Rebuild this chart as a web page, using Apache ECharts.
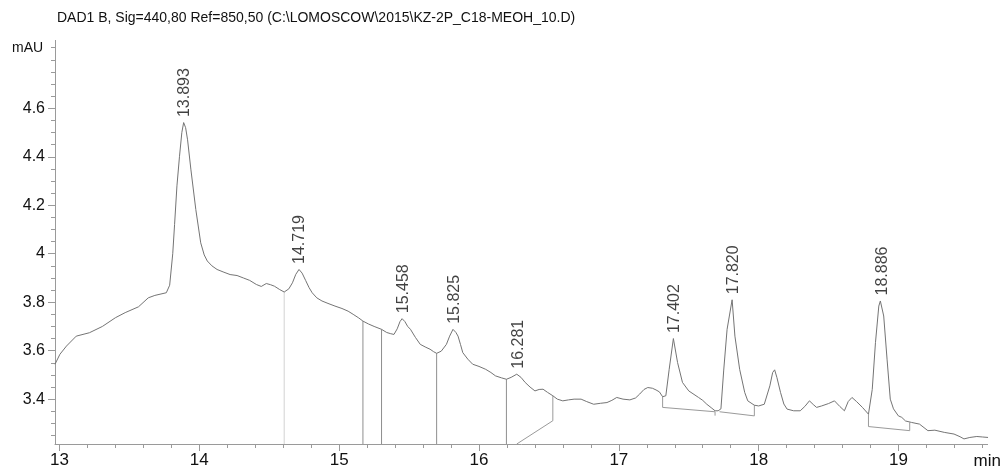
<!DOCTYPE html>
<html>
<head>
<meta charset="utf-8">
<script src="https://cdn.jsdelivr.net/npm/echarts@6/dist/echarts.min.js"></script>
<style>
  html, body { margin: 0; padding: 0; background: #fff; }
  #chart { width: 1004px; height: 470px; }
</style>
</head>
<body>
<div id="chart"></div>
<script>
// chromatogram trace (min, mAU)
var traceTime = [
  12.968, 13.003, 13.05, 13.12, 13.214, 13.307, 13.40, 13.47, 13.565, 13.635,
  13.682, 13.764, 13.788, 13.81, 13.823, 13.84, 13.858, 13.875, 13.888, 13.902,
  13.916, 13.94, 13.975, 14.01, 14.035, 14.057, 14.09, 14.127, 14.17, 14.22,
  14.27, 14.315, 14.36, 14.408, 14.443, 14.479, 14.51, 14.537, 14.575, 14.607,
  14.64, 14.666, 14.69, 14.713, 14.735, 14.76, 14.785, 14.807, 14.84, 14.877,
  14.92, 14.97, 15.02, 15.064, 15.10, 15.14, 15.17, 15.21, 15.25, 15.303,
  15.34, 15.369, 15.392, 15.415, 15.435, 15.45, 15.47, 15.49, 15.51, 15.545,
  15.58, 15.62, 15.65, 15.675, 15.697, 15.73, 15.767, 15.79, 15.814, 15.835,
  15.85, 15.868, 15.884, 15.92, 15.955, 16.00, 16.048, 16.085, 16.118, 16.16,
  16.196, 16.23, 16.27, 16.30, 16.33, 16.365, 16.40, 16.43, 16.458, 16.49,
  16.528, 16.56, 16.599, 16.64, 16.68, 16.73, 16.77, 16.82, 16.87, 16.915,
  16.95, 16.985, 17.03, 17.079, 17.12, 17.149, 17.18, 17.207, 17.24, 17.266,
  17.29, 17.313, 17.336, 17.36, 17.39, 17.42, 17.455, 17.50, 17.57, 17.60,
  17.629, 17.66, 17.688, 17.71, 17.73, 17.75, 17.774, 17.81, 17.83, 17.864,
  17.90, 17.922, 17.969, 18.00, 18.04, 18.08, 18.10, 18.114, 18.13, 18.156,
  18.18, 18.203, 18.25, 18.297, 18.33, 18.363, 18.39, 18.414, 18.45, 18.50,
  18.542, 18.58, 18.613, 18.64, 18.667, 18.70, 18.742, 18.785, 18.812, 18.835,
  18.859, 18.87, 18.894, 18.918, 18.941, 18.964, 18.999, 19.023, 19.05, 19.093,
  19.15, 19.21, 19.26, 19.327, 19.397, 19.44, 19.468, 19.51, 19.56, 19.60,
  19.64
];
var traceAbs = [
  3.544, 3.585, 3.619, 3.660, 3.674, 3.700, 3.736, 3.757, 3.781, 3.818,
  3.828, 3.839, 3.870, 4.000, 4.120, 4.280, 4.400, 4.500, 4.541, 4.520,
  4.470, 4.346, 4.182, 4.045, 3.995, 3.970, 3.950, 3.935, 3.925, 3.914,
  3.910, 3.900, 3.890, 3.873, 3.865, 3.877, 3.872, 3.866, 3.852, 3.842,
  3.855, 3.880, 3.915, 3.935, 3.920, 3.890, 3.860, 3.839, 3.818, 3.805,
  3.795, 3.784, 3.774, 3.763, 3.750, 3.735, 3.722, 3.710, 3.700, 3.688,
  3.675, 3.670, 3.667, 3.690, 3.720, 3.732, 3.720, 3.700, 3.688, 3.655,
  3.626, 3.614, 3.606, 3.596, 3.589, 3.598, 3.626, 3.660, 3.688, 3.675,
  3.660, 3.625, 3.592, 3.565, 3.544, 3.535, 3.523, 3.510, 3.496, 3.488,
  3.482, 3.490, 3.503, 3.490, 3.469, 3.450, 3.434, 3.440, 3.441, 3.428,
  3.414, 3.400, 3.393, 3.397, 3.400, 3.400, 3.390, 3.379, 3.383, 3.386,
  3.395, 3.407, 3.400, 3.397, 3.405, 3.421, 3.440, 3.448, 3.445, 3.438,
  3.430, 3.410, 3.414, 3.523, 3.650, 3.551, 3.469, 3.434, 3.407, 3.395,
  3.379, 3.365, 3.352, 3.352, 3.360, 3.520, 3.688, 3.810, 3.660, 3.523,
  3.428, 3.393, 3.375, 3.372, 3.379, 3.455, 3.510, 3.521, 3.490, 3.428,
  3.380, 3.359, 3.352, 3.352, 3.370, 3.393, 3.378, 3.366, 3.372, 3.382,
  3.393, 3.370, 3.352, 3.390, 3.407, 3.390, 3.366, 3.338, 3.440, 3.633,
  3.784, 3.805, 3.743, 3.565, 3.400, 3.360, 3.331, 3.325, 3.310, 3.304,
  3.297, 3.270, 3.272, 3.263, 3.256, 3.245, 3.236, 3.242, 3.246, 3.244,
  3.242
];

// peak retention times and apex heights
var peakTimes = ['13.893', '14.719', '15.458', '15.825', '16.281', '17.402', '17.820', '18.886'];
var peakApex = [4.541, 3.935, 3.732, 3.688, 3.503, 3.650, 3.810, 3.805];

// integration marks: drop lines and baselines
var dropTimes = [14.607, 15.17, 15.303, 15.697, 16.196];
var dropTops = [3.842, 3.722, 3.688, 3.589, 3.482];
var baseTimes = [
  [16.27, 16.528, 16.528],
  [17.313, 17.313, 17.688, 17.688],
  [17.72, 17.969, 17.969],
  [18.785, 18.785, 19.08, 19.08]
];
var baseAbs = [
  [3.215, 3.311, 3.414],
  [3.410, 3.366, 3.348, 3.332],
  [3.348, 3.331, 3.375],
  [3.338, 3.287, 3.270, 3.304]
];

// axis ticks
var xLabels = [13, 14, 15, 16, 17, 18, 19];
var xTicks = [13, 13.2, 13.4, 13.6, 13.8, 14, 14.2, 14.4, 14.6, 14.8, 15, 15.2, 15.4, 15.6, 15.8,
  16, 16.2, 16.4, 16.6, 16.8, 17, 17.2, 17.4, 17.6, 17.8, 18, 18.2, 18.4, 18.6, 18.8, 19, 19.2, 19.4, 19.6];
var yLabels = [3.4, 3.6, 3.8, 4, 4.2, 4.4, 4.6];
var yTicks = [3.25, 3.3, 3.35, 3.4, 3.45, 3.5, 3.55, 3.6, 3.65, 3.7, 3.75, 3.8, 3.85, 3.9, 3.95, 4,
  4.05, 4.1, 4.15, 4.2, 4.25, 4.3, 4.35, 4.4, 4.45, 4.5, 4.55, 4.6, 4.65, 4.7, 4.75, 4.8, 4.85];

var axisGray = '#9a9a9a';
var narrow = '"Liberation Sans Narrow", "Liberation Sans", Arial, sans-serif';
var sans = '"Liberation Sans", Arial, sans-serif';

var trace = traceTime.map(function (t, i) { return [t, traceAbs[i]]; });

var series = [{
  type: 'line',
  data: trace,
  showSymbol: false,
  lineStyle: { color: '#747474', width: 1 },
  z: 3
}];

dropTimes.forEach(function (t, i) {
  series.push({
    type: 'line',
    data: [[t, 3.215], [t, dropTops[i]]],
    showSymbol: false,
    lineStyle: { color: i === 0 ? '#d2d2d2' : '#8e8e8e', width: 1 },
    z: 2
  });
});

baseTimes.forEach(function (ts, i) {
  series.push({
    type: 'line',
    data: ts.map(function (t, j) { return [t, baseAbs[i][j]]; }),
    showSymbol: false,
    lineStyle: { color: '#9a9a9a', width: 1 },
    z: 2
  });
});

series.push({
  type: 'scatter',
  symbolSize: 1,
  itemStyle: { color: 'rgba(0,0,0,0)' },
  data: peakTimes.map(function (p, i) { return { name: p, value: [parseFloat(p), peakApex[i]] }; }),
  label: {
    show: true,
    formatter: '{b}',
    position: 'top',
    distance: 5,
    rotate: 90,
    align: 'left',
    verticalAlign: 'middle',
    fontFamily: narrow,
    fontSize: 16,
    color: '#111'
  },
  z: 4
});

var myChart = echarts.init(document.getElementById('chart'));
myChart.setOption({
  animation: false,
  backgroundColor: '#fff',
  title: {
    text: 'DAD1 B, Sig=440,80 Ref=850,50 (C:\\LOMOSCOW\\2015\\KZ-2P_C18-MEOH_10.D)',
    left: 57,
    top: 11,
    padding: 0,
    textStyle: { fontFamily: sans, fontSize: 14, fontWeight: 'normal', color: '#111' }
  },
  graphic: [{
    type: 'text',
    left: 12,
    top: 41,
    style: { text: 'mAU', fontFamily: sans, fontSize: 14, fill: '#111' }
  }],
  grid: { left: 55, right: 0, top: 40.4, bottom: 25 },
  xAxis: [{
    type: 'value',
    min: 12.968,
    max: 19.637,
    name: 'min',
    nameLocation: 'end',
    nameGap: -14,
    nameTextStyle: { fontFamily: narrow, fontSize: 17, color: '#111', align: 'left', verticalAlign: 'top', padding: [9, 0, 0, 0] },
    axisLine: { show: true, lineStyle: { color: axisGray } },
    axisTick: { show: true, customValues: xTicks, length: 4, lineStyle: { color: axisGray } },
    axisLabel: { customValues: xLabels, margin: 8, fontFamily: narrow, fontSize: 17, color: '#111' },
    splitLine: { show: false }
  }, {
    type: 'value',
    position: 'bottom',
    min: 12.968,
    max: 19.637,
    axisLine: { show: false },
    axisTick: { show: true, customValues: xLabels, length: 7, lineStyle: { color: axisGray } },
    axisLabel: { show: false },
    splitLine: { show: false }
  }],
  yAxis: [{
    type: 'value',
    min: 3.215,
    max: 4.88,
    axisLine: { show: true, lineStyle: { color: axisGray } },
    axisTick: { show: true, customValues: yTicks, length: 4, lineStyle: { color: axisGray } },
    axisLabel: { customValues: yLabels, margin: 10, fontFamily: sans, fontSize: 16, color: '#111' },
    splitLine: { show: false }
  }, {
    type: 'value',
    position: 'left',
    min: 3.215,
    max: 4.88,
    axisLine: { show: false },
    axisTick: { show: true, customValues: yLabels, length: 7, lineStyle: { color: axisGray } },
    axisLabel: { show: false },
    splitLine: { show: false }
  }],
  series: series
});
</script>
</body>
</html>
